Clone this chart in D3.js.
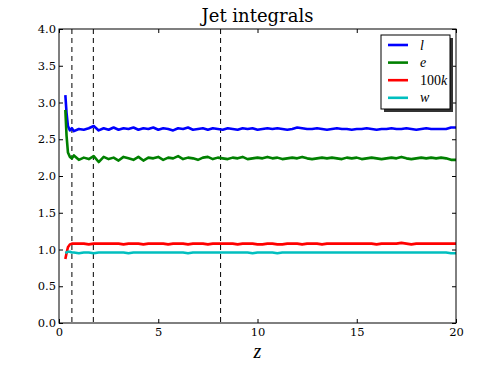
<!DOCTYPE html>
<html>
<head>
<meta charset="utf-8">
<script src="https://cdn.jsdelivr.net/npm/d3@7"></script>
<style>
  body { margin: 0; background: #fff; }
  svg text { font-family: "Liberation Serif", "DejaVu Serif", serif; }
</style>
</head>
<body>
<div id="chart"></div>
<script>
// sample positions along the jet
const zVals = [
  0.32,0.38,0.45,0.55,0.65,
  0.75,1.0,1.25,1.5,1.75,2.0,2.25,2.5,
  2.75,3.0,3.25,3.5,3.75,4.0,4.25,4.5,
  4.75,5.0,5.25,5.5,5.75,6.0,6.25,6.5,
  6.75,7.0,7.25,7.5,7.75,8.0,8.25,8.5,
  8.75,9.0,9.25,9.5,9.75,10.0,10.25,10.5,
  10.75,11.0,11.25,11.5,11.75,12.0,12.25,12.5,
  12.75,13.0,13.25,13.5,13.75,14.0,14.25,14.5,
  14.75,15.0,15.25,15.5,15.75,16.0,16.25,16.5,
  16.75,17.0,17.25,17.5,17.75,18.0,18.25,18.5,
  18.75,19.0,19.25,19.5,19.75,20.0
];

const lVals = [
  3.10,2.86,2.68,2.62,2.65,
  2.61,2.64,2.63,2.65,2.68,2.62,2.65,2.63,
  2.66,2.63,2.65,2.64,2.66,2.63,2.65,2.64,
  2.66,2.63,2.65,2.64,2.62,2.65,2.64,2.66,
  2.63,2.64,2.65,2.63,2.65,2.64,2.63,2.65,
  2.64,2.63,2.65,2.64,2.65,2.63,2.64,2.65,
  2.64,2.65,2.64,2.63,2.64,2.66,2.65,2.64,
  2.64,2.65,2.64,2.63,2.64,2.65,2.64,2.64,
  2.63,2.64,2.64,2.65,2.64,2.63,2.64,2.64,
  2.65,2.64,2.64,2.65,2.64,2.63,2.64,2.65,
  2.64,2.64,2.64,2.64,2.66,2.66
];

const eVals = [
  2.90,2.55,2.32,2.26,2.24,
  2.28,2.22,2.25,2.23,2.27,2.19,2.26,2.23,
  2.25,2.21,2.26,2.24,2.22,2.26,2.21,2.25,
  2.24,2.26,2.22,2.25,2.24,2.27,2.23,2.25,
  2.24,2.22,2.25,2.26,2.23,2.25,2.24,2.23,
  2.25,2.24,2.26,2.23,2.24,2.25,2.24,2.26,
  2.24,2.25,2.23,2.24,2.25,2.24,2.26,2.24,
  2.23,2.24,2.25,2.24,2.25,2.24,2.23,2.25,
  2.24,2.25,2.23,2.24,2.25,2.24,2.23,2.24,
  2.25,2.24,2.26,2.24,2.23,2.24,2.25,2.24,
  2.25,2.24,2.25,2.24,2.22,2.22
];

const kVals = [
  0.87,0.95,1.03,1.07,1.08,
  1.08,1.08,1.08,1.07,1.08,1.08,1.08,1.08,
  1.08,1.08,1.07,1.08,1.08,1.08,1.07,1.08,
  1.08,1.08,1.08,1.07,1.08,1.08,1.08,1.07,
  1.08,1.08,1.08,1.07,1.08,1.08,1.08,1.08,
  1.08,1.07,1.08,1.08,1.08,1.07,1.07,1.08,
  1.08,1.07,1.07,1.08,1.08,1.08,1.07,1.08,
  1.08,1.08,1.07,1.08,1.08,1.08,1.08,1.08,
  1.08,1.08,1.08,1.08,1.08,1.07,1.08,1.08,
  1.08,1.08,1.09,1.08,1.07,1.08,1.08,1.08,
  1.08,1.08,1.08,1.08,1.08,1.08
];

const wVals = [
  0.95,0.96,0.97,0.97,0.96,
  0.96,0.95,0.96,0.96,0.95,0.96,0.96,0.96,
  0.96,0.96,0.96,0.95,0.96,0.96,0.96,0.96,
  0.96,0.96,0.96,0.96,0.96,0.96,0.96,0.95,
  0.96,0.96,0.96,0.96,0.96,0.96,0.96,0.96,
  0.96,0.96,0.96,0.96,0.95,0.96,0.96,0.96,
  0.96,0.95,0.96,0.96,0.96,0.96,0.96,0.96,
  0.96,0.96,0.96,0.96,0.96,0.96,0.96,0.96,
  0.96,0.96,0.96,0.96,0.96,0.96,0.96,0.96,
  0.96,0.96,0.96,0.96,0.96,0.96,0.96,0.96,
  0.96,0.96,0.96,0.96,0.95,0.95
];

const seriesNames = ["l", "e", "100k", "w"];
const seriesColors = ["#0000ff", "#008000", "#ff0000", "#00bfbf"];
const vLines = [0.65, 1.73, 8.14];
const xTicks = [0, 5, 10, 15, 20];
const yTicks = [0.0, 0.5, 1.0, 1.5, 2.0, 2.5, 3.0, 3.5, 4.0];

const W = 491, H = 368;
const margin = {left: 59, right: 35, top: 29, bottom: 45};
const iw = W - margin.left - margin.right;
const ih = H - margin.top - margin.bottom;

const svg = d3.select('#chart').append('svg')
    .attr('width', W)
    .attr('height', H);

const g = svg.append('g')
    .attr('transform', `translate(${margin.left},${margin.top})`);

const x = d3.scaleLinear().domain([0, 20]).range([0, iw]);
const y = d3.scaleLinear().domain([0, 4]).range([ih, 0]);

const allSeries = [lVals, eVals, kVals, wVals];

// dashed markers
g.selectAll('.vline').data(vLines).enter().append('line')
    .attr('x1', d => x(d)).attr('x2', d => x(d))
    .attr('y1', 0).attr('y2', ih)
    .attr('stroke', '#000')
    .attr('stroke-width', 1)
    .attr('stroke-dasharray', '5,4');

const line = d3.line()
    .x((d, i) => x(zVals[i]))
    .y(d => y(d));

allSeries.forEach((vals, i) => {
  g.append('path')
    .datum(vals)
    .attr('d', line)
    .attr('fill', 'none')
    .attr('stroke', seriesColors[i])
    .attr('stroke-width', 2.6)
    .attr('stroke-linejoin', 'round');
});

// axes, ticks inward on all four sides
const tickLen = 4;
const xb = g.append('g').attr('transform', `translate(0,${ih})`)
    .call(d3.axisBottom(x).tickValues(xTicks).tickSize(-tickLen).tickPadding(5).tickFormat(d3.format('d')));
const xt = g.append('g')
    .call(d3.axisTop(x).tickValues(xTicks).tickSize(-tickLen).tickFormat(''));
const yl = g.append('g')
    .call(d3.axisLeft(y).tickValues(yTicks).tickSize(-tickLen).tickPadding(3).tickFormat(d3.format('.1f')));
const yr = g.append('g').attr('transform', `translate(${iw},0)`)
    .call(d3.axisRight(y).tickValues(yTicks).tickSize(-tickLen).tickFormat(''));

[xb, xt, yl, yr].forEach(a => {
  a.select('.domain').remove();
  a.selectAll('line').attr('stroke', '#000');
  a.selectAll('text').attr('font-size', 11.5).attr('fill', '#000')
    .style('font-family', '"DejaVu Serif", serif');
});

g.append('rect')
    .attr('width', iw).attr('height', ih)
    .attr('fill', 'none')
    .attr('stroke', '#000')
    .attr('stroke-width', 1);

// title and axis label
svg.append('text')
    .attr('x', margin.left + iw / 2)
    .attr('y', 22)
    .attr('text-anchor', 'middle')
    .attr('font-size', 18)
    .style('font-family', '"DejaVu Serif", serif')
    .text('Jet integrals');

svg.append('text')
    .attr('x', margin.left + iw / 2)
    .attr('y', 358)
    .attr('text-anchor', 'middle')
    .attr('font-size', 20)
    .attr('font-style', 'italic')
    .text('z');

// legend
const lg = svg.append('g').attr('transform', 'translate(381,35)');
lg.append('rect')
    .attr('x', 3).attr('y', 3)
    .attr('width', 69).attr('height', 74)
    .attr('fill', '#333');
lg.append('rect')
    .attr('width', 69).attr('height', 74)
    .attr('fill', '#fff')
    .attr('stroke', '#000')
    .attr('stroke-width', 1);

seriesNames.forEach((name, i) => {
  const yy = 10 + i * 17.6;
  lg.append('line')
    .attr('x1', 7).attr('x2', 27)
    .attr('y1', yy).attr('y2', yy)
    .attr('stroke', seriesColors[i])
    .attr('stroke-width', 2.6);
  const t = lg.append('text')
    .attr('x', 39).attr('y', yy + 4.5)
    .attr('font-size', 14);
  if (name === '100k') {
    t.append('tspan').text('100');
    t.append('tspan').attr('font-style', 'italic').text('k');
  } else {
    t.attr('font-style', 'italic').text(name);
  }
});
</script>
</body>
</html>
